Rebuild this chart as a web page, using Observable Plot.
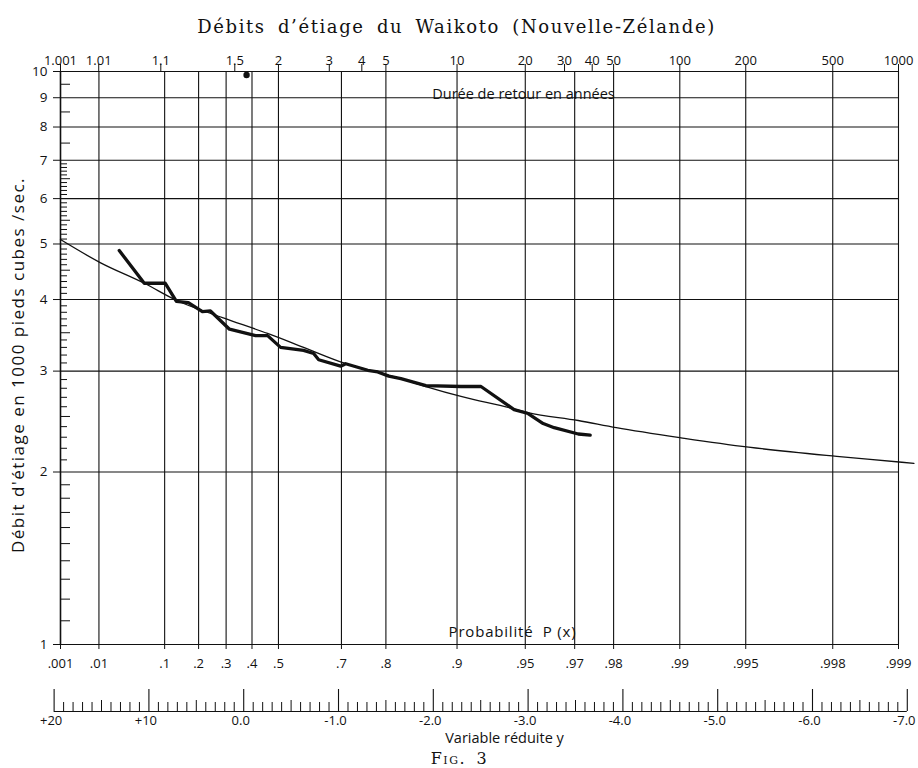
<!DOCTYPE html>
<html>
<head>
<meta charset="utf-8">
<script src="https://cdn.jsdelivr.net/npm/d3@7"></script>
<script src="https://cdn.jsdelivr.net/npm/@observablehq/plot@0.6"></script>
<style>
  html, body { margin: 0; padding: 0; background: #fff; }
  #chart svg { display: block; }
</style>
</head>
<body>
<div id="chart"></div>
<script>
// ---------- texts ----------
const titleText = "Débits d’étiage du Waikoto (Nouvelle-Zélande)";
const yAxisText = "Débit d'étiage en 1000 pieds cubes /sec.";
const returnText = "Durée de retour en années";
const probText = "Probabilité  P (x)";
const reducedText = "Variable réduite y";
const figText = "Fig. 3";

// ---------- probability grid (bottom) ----------
const probValues = [0.001, 0.01, 0.1, 0.2, 0.3, 0.4, 0.5, 0.7, 0.8, 0.9, 0.95, 0.97, 0.98, 0.99, 0.995, 0.998, 0.999];
const probLabels = [".001", ".01", ".1", ".2", ".3", ".4", ".5", ".7", ".8", ".9", ".95", ".97", ".98", ".99", ".995", ".998", ".999"];

// ---------- return periods (top) ----------
const returnValues = [1.001, 1.01, 1.1, 1.5, 2, 3, 4, 5, 10, 20, 30, 40, 50, 100, 200, 500, 1000];
const returnLabels = ["1.001", "1.01", "1.1", "1.5", "2", "3", "4", "5", "10", "20", "30", "40", "50", "100", "200", "500", "1000"];

// ---------- flow axis (left, log) ----------
const flowTicks = [1, 2, 3, 4, 5, 6, 7, 8, 9, 10];
const flowLabels = ["1", "2", "3", "4", "5", "6", "7", "8", "9", "10"];

// ---------- reduced variable scale (bottom) ----------
const reducedTickValues = [-2, -1, 0, 1, 2, 3, 4, 5, 6, 7];
const reducedTickLabels = ["+20", "+10", "0.0", "-1.0", "-2.0", "-3.0", "-4.0", "-5.0", "-6.0", "-7.0"];

// ---------- observed low flows (reduced variable, 1000 cfs) ----------
const obsReduced = [-1.313, -1.049, -0.827, -0.710, -0.584, -0.436, -0.351, -0.150, 0.125, 0.252, 0.389, 0.632, 0.738, 0.791, 1.023, 1.076, 1.309, 1.414, 1.531, 1.658, 1.922, 2.292, 2.503, 2.852, 3.000, 3.159, 3.275, 3.529, 3.655];
const obsFlow    = [4.87, 4.27, 4.27, 3.97, 3.95, 3.81, 3.82, 3.55, 3.46, 3.46, 3.30, 3.26, 3.22, 3.14, 3.06, 3.09, 3.01, 2.99, 2.94, 2.91, 2.83, 2.82, 2.82, 2.57, 2.53, 2.43, 2.39, 2.33, 2.32];

// ---------- fitted distribution curve ----------
const fitReduced = [-1.933, -1.514, -1.049, -0.700, -0.224, 0.252, 0.632, 1.055, 1.658, 1.922, 2.292, 2.799, 3.000, 3.529, 3.930, 4.649, 5.326, 6.256, 6.943, 7.07];
const fitFlow    = [5.09, 4.64, 4.27, 3.98, 3.72, 3.49, 3.30, 3.10, 2.91, 2.82, 2.71, 2.59, 2.54, 2.46, 2.39, 2.29, 2.21, 2.13, 2.08, 2.07];

// ---------- printed dot near the top ----------
const dotReduced = [0.03];
const dotFlow = [9.86];

// ---------- helpers ----------
const reduced = p => -Math.log(-Math.log(p));          // Gumbel reduced variable
const returnToProb = t => 1 - 1 / t;

const obs = obsReduced.map((r, i) => ({r, q: obsFlow[i]}));
const fit = fitReduced.map((r, i) => ({r, q: fitFlow[i]}));
const dots = dotReduced.map((r, i) => ({r, q: dotFlow[i]}));
const probs = probValues.map((p, i) => ({r: reduced(p), label: probLabels[i]}));
const rets = returnValues.map((t, i) => ({r: reduced(returnToProb(t)), label: returnLabels[i]}));
const flows = flowTicks.map((q, i) => ({q, label: flowLabels[i]}));
const redTicks = reducedTickValues.map((r, i) => ({r, label: reducedTickLabels[i]}));

// minor ticks on left axis
const minorLong = [1.1,1.2,1.3,1.4,1.5,1.6,1.7,1.8,1.9,2.5,3.5,4.5,5.5,6.5,7.5,8.5,9.5];
const minorShort = [2.1,2.2,2.3,2.4,2.6,2.7,2.8,2.9,3.1,3.2,3.3,3.4,3.6,3.7,3.8,3.9,4.1,4.2,4.3,4.4,4.6,4.7,4.8,4.9,5.1,5.2,5.3,5.4,5.6,5.7,5.8,5.9,6.1,6.2,6.3,6.4,6.6,6.7,6.8,6.9];

// reduced variable minor ticks
const redAll = d3.range(-20, 71).map(k => k / 10);
const redMinor = redAll.filter(v => Math.abs(v * 2 - Math.round(v * 2)) > 1e-6);
const redHalf = redAll.filter(v => Math.abs(v * 2 - Math.round(v * 2)) < 1e-6 && Math.abs(v - Math.round(v)) > 1e-6);

// ---------- layout ----------
const W = 918, H = 768;
const mL = 60, mR = 20, mT = 71, mB = 124;
const fw = W - mL - mR, fh = H - mT - mB;
const sans = "'Open Sans', 'DejaVu Sans', sans-serif";
const serif = "'DejaVu Serif', 'Liberation Serif', serif";
const ink = "#111";

const chart = Plot.plot({
  width: W, height: H,
  marginLeft: mL, marginRight: mR, marginTop: mT, marginBottom: mB,
  style: {background: "#fff", color: ink, fontFamily: sans},
  x: {type: "linear", domain: [reduced(probValues[0]), reduced(probValues[probValues.length - 1])], axis: null},
  y: {type: "log", domain: [1, 10], axis: null},
  marks: [
    // vertical grid (probabilities)
    Plot.ruleX(probs, {x: "r", stroke: ink, strokeWidth: d => d.label === ".001" ? 1.6 : 1.1}),
    // small ticks below bottom line
    Plot.tickX(probs, {x: "r", insetTop: fh - 5, dy: 5, stroke: ink}),
    // horizontal grid
    Plot.ruleY(flows, {y: "q", stroke: ink, strokeWidth: 1.1}),
    // left outward ticks
    Plot.tickY(flows, {y: "q", insetRight: fw - 7, dx: -7, stroke: ink}),
    // left minor ticks
    Plot.tickY(minorLong, {y: d => d, insetRight: fw - 10, stroke: ink}),
    Plot.tickY(minorShort, {y: d => d, insetRight: fw - 7, stroke: ink}),
    // return period ticks above top line
    Plot.tickX(rets, {x: "r", insetBottom: fh - 7, dy: -7, stroke: ink}),
    // labels
    Plot.text(rets, {x: "r", text: "label", frameAnchor: "top", dy: -16, fontSize: 13, fill: ink}),
    Plot.text(probs, {x: "r", text: "label", frameAnchor: "bottom", dy: 23, fontSize: 13, fill: ink}),
    Plot.text(flows, {y: "q", text: "label", frameAnchor: "left", dx: -13, textAnchor: "end", fontSize: 13.5, fill: ink}),
    // reduced variable scale
    Plot.ruleY([1], {y: d => d, x1: -2, x2: 7, dy: 67, stroke: ink, strokeWidth: 1.2}),
    Plot.tickX(redTicks, {x: "r", insetTop: fh - 22, dy: 67, stroke: ink, strokeWidth: 1.1}),
    Plot.tickX(redHalf, {x: d => d, insetTop: fh - 11, dy: 67, stroke: ink}),
    Plot.tickX(redMinor, {x: d => d, insetTop: fh - 9, dy: 67, stroke: ink}),
    Plot.text(redTicks, {x: "r", text: "label", frameAnchor: "bottom", dy: 80, dx: -3, fontSize: 13, fill: ink}),
    // fitted curve and observations
    Plot.line(fit, {x: "r", y: "q", curve: "monotone-x", stroke: ink, strokeWidth: 1.3}),
    Plot.line(obs, {x: "r", y: "q", stroke: ink, strokeWidth: 3.3, strokeLinejoin: "round", strokeLinecap: "round"}),
    Plot.dot(dots, {x: "r", y: "q", r: 3.2, fill: ink, stroke: "none"}),
    // annotations
    Plot.text([titleText], {frameAnchor: "top", dx: -23, dy: -51, fontSize: 18, fontFamily: serif, fill: ink}),
    Plot.text([returnText], {frameAnchor: "top", dx: 44, dy: 17, fontSize: 14.5, fill: ink}),
    Plot.text([probText], {frameAnchor: "bottom", dx: 33, dy: -8, fontSize: 15, fill: ink}),
    Plot.text([reducedText], {frameAnchor: "bottom", dx: 25, dy: 98, fontSize: 14.5, fill: ink}),
    Plot.text([figText], {frameAnchor: "bottom", dx: -20, dy: 119, fontSize: 16, fontFamily: serif, fontVariant: "small-caps", fill: ink}),
    Plot.text([yAxisText], {frameAnchor: "left", textAnchor: "middle", dx: -42, dy: 7, rotate: -90, fontSize: 17, fill: ink})
  ]
});

// letter-spacing as in the printed lettering
d3.select(chart).selectAll("text").each(function() {
  const t = this.textContent;
  if (t === titleText) { this.setAttribute("letter-spacing", "1.6"); this.setAttribute("word-spacing", "5"); }
  if (t === figText) { this.setAttribute("letter-spacing", "1.5"); this.setAttribute("word-spacing", "4"); }
  if (t === yAxisText) { this.setAttribute("letter-spacing", "1.5"); }
  if (t === probText) { this.setAttribute("letter-spacing", "0.8"); }
});

document.getElementById("chart").appendChild(chart);
</script>
</body>
</html>
